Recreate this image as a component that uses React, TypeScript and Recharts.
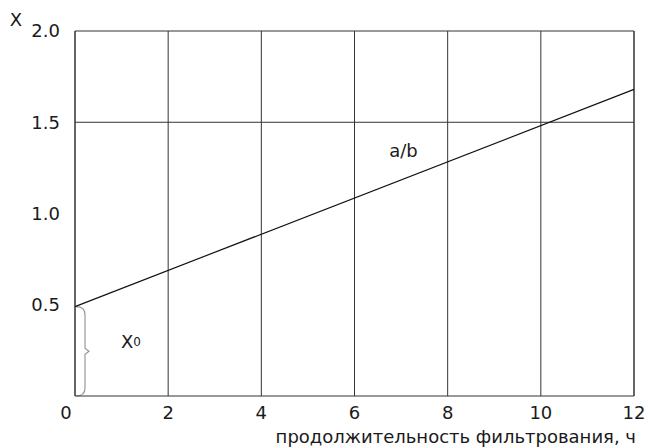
import { LineChart, Line, XAxis, YAxis, CartesianGrid, ReferenceLine, ReferenceArea, ReferenceDot, Label } from 'recharts'

const hours = [0, 12]
const xValues = [0.49, 1.68]
const xTicks = [0, 2, 4, 6, 8, 10, 12]
const yTicks = [0.5, 1.0, 1.5, 2.0]
const hLines = [1.5, 2.0]
const x0Value = 0.49

const data = hours.map((h, i) => ({ h, x: xValues[i] }))

const FONT = 'DejaVu Sans, Verdana, sans-serif'
const FS = 18

const XTick = (props: any) => {
  const { x, y, payload } = props
  const shift = payload.value === 0 ? -9 : 0
  return (
    <text x={x + shift} y={y + 15} textAnchor="middle" fontSize={FS} fontFamily={FONT} fill="#1a1a1a">
      {payload.value}
    </text>
  )
}

const Brace = (props: any) => {
  const { x, y, height } = props
  const x0 = x + 1
  const xm = x + 10
  const top = y
  const bot = y + height
  const mid = top + height / 2
  const d = `M${x0},${bot} Q${xm},${bot} ${xm},${bot - 8} L${xm},${mid + 3} L${xm + 4},${mid} L${xm},${mid - 3} L${xm},${top + 8} Q${xm},${top} ${x0},${top}`
  return <path d={d} fill="none" stroke="#999" strokeWidth={1.2} />
}

export default function App() {
  return (
    <div style={{ position: 'absolute', left: 0, top: 0, background: '#fff' }}>
      <LineChart width={650} height={448} data={data} margin={{ top: 31, right: 16, left: 20, bottom: 22 }}>
        <CartesianGrid horizontal={false} stroke="#333" strokeWidth={1} />
        {hLines.map((v) => (
          <ReferenceLine key={v} y={v} stroke="#333" strokeWidth={1} />
        ))}
        <ReferenceLine x={12} stroke="#333" strokeWidth={1} />
        <XAxis
          dataKey="h"
          type="number"
          domain={[0, 12]}
          ticks={xTicks}
          tickLine={false}
          axisLine={{ stroke: '#333' }}
          tick={<XTick />}
          height={30}
          interval={0}
        >
          <Label
            content={(p: any) => {
              const vb = p.viewBox
              return (
                <text x={vb.x + vb.width + 2} y={vb.y + 47} textAnchor="end" fontSize={FS} fontFamily={FONT} fill="#1a1a1a">
                  продолжительность фильтрования, ч
                </text>
              )
            }}
          />
        </XAxis>
        <YAxis
          type="number"
          domain={[0, 2]}
          ticks={yTicks}
          tickLine={false}
          axisLine={{ stroke: '#333' }}
          width={55}
          tickMargin={9}
          tick={{ fontSize: FS, fontFamily: FONT, fill: '#1a1a1a' }}
          tickFormatter={(v: number) => v.toFixed(1)}
          interval={0}
        >
          <Label
            content={(p: any) => {
              const vb = p.viewBox
              return (
                <text x={vb.x - 4} y={vb.y - 5} textAnchor="middle" fontSize={FS} fontFamily={FONT} fill="#1a1a1a">
                  X
                </text>
              )
            }}
          />
        </YAxis>
        <ReferenceArea x1={0} x2={0.3} y1={0} y2={x0Value} shape={<Brace />} ifOverflow="visible" />
        <ReferenceDot x={7.05} y={1.35} r={0} ifOverflow="visible">
          <Label
            content={(p: any) => {
              const vb = p.viewBox
              return (
                <text x={vb.x + vb.width / 2} y={vb.y + vb.height / 2 + 7} textAnchor="middle" fontSize={FS} fontFamily={FONT} fill="#1a1a1a">
                  a/b
                </text>
              )
            }}
          />
        </ReferenceDot>
        <ReferenceDot x={1.2} y={0.3} r={0} ifOverflow="visible">
          <Label
            content={(p: any) => {
              const vb = p.viewBox
              return (
                <text x={vb.x + vb.width / 2} y={vb.y + vb.height / 2 + 7} textAnchor="middle" fontSize={FS} fontFamily={FONT} fill="#1a1a1a">
                  X<tspan fontSize={12} dy={-2}>0</tspan>
                </text>
              )
            }}
          />
        </ReferenceDot>
        <Line dataKey="x" stroke="#111" strokeWidth={1.2} dot={false} isAnimationActive={false} />
      </LineChart>
    </div>
  )
}
